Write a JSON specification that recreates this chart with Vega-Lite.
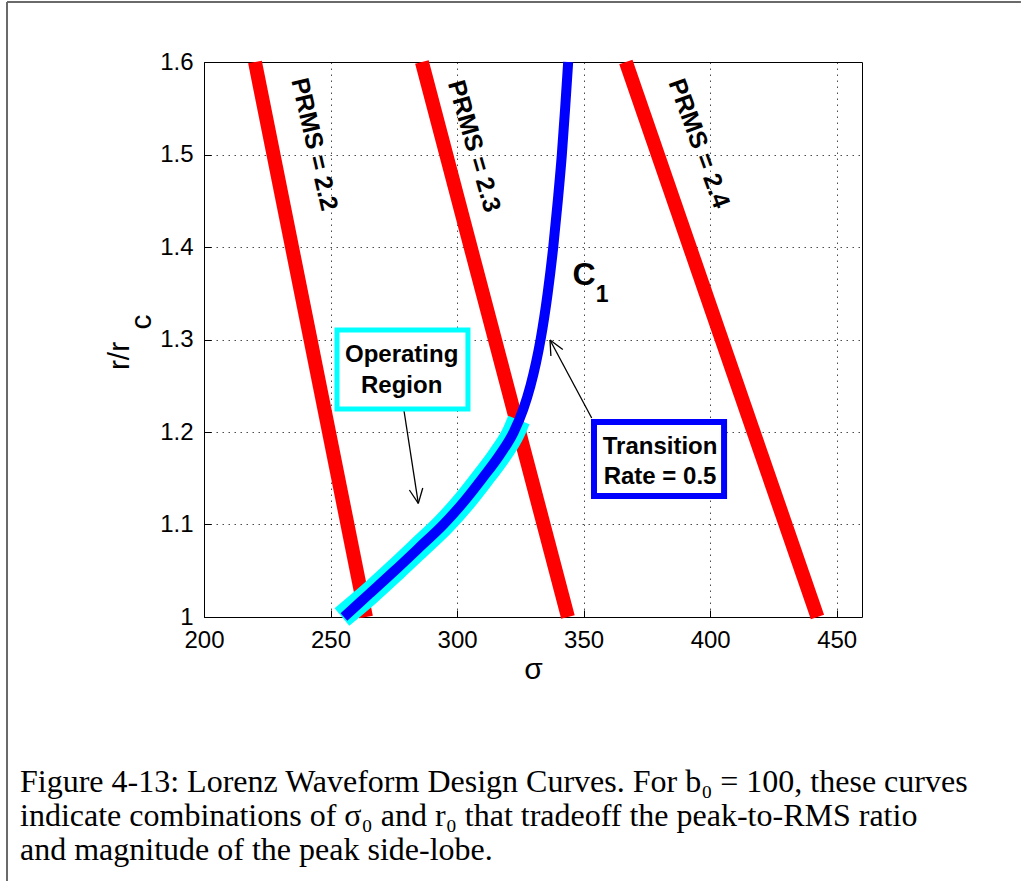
{
  "$schema": "https://vega.github.io/schema/vega-lite/v6.json",
  "width": 658,
  "height": 555,
  "autosize": {"type": "none"},
  "padding": {"left": 204, "top": 62, "right": 159, "bottom": 264},
  "background": "white",
  "config": {
    "view": {"stroke": "black", "strokeWidth": 1},
    "axis": {
      "labelFont": "Liberation Sans",
      "labelFontSize": 24,
      "labelColor": "black",
      "labelFlush": false,
      "domain": false,
      "grid": true,
      "gridColor": "black",
      "gridOpacity": 0.7,
      "gridDash": [1.5, 4.5],
      "gridWidth": 1,
      "ticks": true,
      "tickSize": -7,
      "tickColor": "black"
    },
    "text": {"font": "Liberation Sans", "fontWeight": "bold", "color": "black"}
  },
  "title": {
    "text": [
      "Figure 4-13: Lorenz Waveform Design Curves. For b₀ = 100, these curves",
      "indicate combinations of σ₀ and r₀ that tradeoff the peak-to-RMS ratio",
      "and magnitude of the peak side-lobe."
    ],
    "orient": "bottom",
    "anchor": "start",
    "frame": "group",
    "dx": -184,
    "offset": -115,
    "font": "Liberation Serif",
    "fontSize": 32,
    "fontWeight": "normal",
    "lineHeight": 34,
    "color": "black",
    "baseline": "top"
  },
  "encoding": {
    "x": {
      "field": "sigma",
      "type": "quantitative",
      "scale": {"domain": [200, 460], "nice": false, "zero": false},
      "axis": {
        "values": [200, 250, 300, 350, 400, 450],
        "labelPadding": 18,
        "title": "σ",
        "titleFont": "Liberation Sans",
        "titleFontSize": 30,
        "titleFontWeight": "normal",
        "titleColor": "black",
        "titlePadding": 2
      }
    },
    "y": {
      "field": "r",
      "type": "quantitative",
      "scale": {"domain": [1, 1.6], "nice": false, "zero": false},
      "axis": {
        "values": [1, 1.1, 1.2, 1.3, 1.4, 1.5, 1.6],
        "format": ".1~f",
        "labelPadding": 18,
        "title": null
      }
    }
  },
  "layer": [
    {
      "data": {"values": [
        {"part": "top", "sigma": 122.16, "r": 1.665, "sigma2": 522.8, "r2": 1.665},
        {"part": "left", "sigma": 122.16, "r": 1.665, "sigma2": 122.16, "r2": 0.7146}
      ]},
      "mark": {"type": "rule", "color": "#6a6a6a", "strokeWidth": 2, "clip": false},
      "encoding": {"x2": {"field": "sigma2"}, "y2": {"field": "r2"}}
    },
    {
      "data": {"values": [
        {"prms": "2.2", "sigma": 220.15, "r": 1.6},
        {"prms": "2.2", "sigma": 264.0, "r": 1.0},
        {"prms": "2.3", "sigma": 286.1, "r": 1.6},
        {"prms": "2.3", "sigma": 343.8, "r": 1.0},
        {"prms": "2.4", "sigma": 366.7, "r": 1.6},
        {"prms": "2.4", "sigma": 442.4, "r": 1.0}
      ]},
      "mark": {"type": "line", "color": "#ff0000", "strokeWidth": 14, "strokeCap": "butt"},
      "encoding": {"detail": {"field": "prms"}}
    },
    {
      "data": {"values": [
        {"sigma": 254.5, "r": 1.0},
        {"sigma": 265.3, "r": 1.025},
        {"sigma": 275.3, "r": 1.05},
        {"sigma": 285.0, "r": 1.075},
        {"sigma": 294.6, "r": 1.1},
        {"sigma": 302.8, "r": 1.125},
        {"sigma": 310.0, "r": 1.15},
        {"sigma": 316.8, "r": 1.175},
        {"sigma": 322.4, "r": 1.2},
        {"sigma": 324.4, "r": 1.213}
      ]},
      "mark": {"type": "line", "color": "#00ffff", "strokeWidth": 23, "strokeCap": "butt", "interpolate": "monotone"}
    },
    {
      "data": {"values": [
        {"sigma": 255.3, "r": 1.0},
        {"sigma": 265.3, "r": 1.025},
        {"sigma": 275.3, "r": 1.05},
        {"sigma": 285.0, "r": 1.075},
        {"sigma": 294.6, "r": 1.1},
        {"sigma": 302.8, "r": 1.125},
        {"sigma": 310.0, "r": 1.15},
        {"sigma": 316.8, "r": 1.175},
        {"sigma": 322.4, "r": 1.2},
        {"sigma": 326.2, "r": 1.225},
        {"sigma": 329.0, "r": 1.25},
        {"sigma": 331.2, "r": 1.275},
        {"sigma": 333.0, "r": 1.3},
        {"sigma": 335.8, "r": 1.35},
        {"sigma": 338.0, "r": 1.4},
        {"sigma": 339.8, "r": 1.45},
        {"sigma": 341.4, "r": 1.5},
        {"sigma": 342.7, "r": 1.55},
        {"sigma": 343.9, "r": 1.6}
      ]},
      "mark": {"type": "line", "color": "#0000ff", "strokeWidth": 10, "strokeCap": "butt", "interpolate": "monotone"}
    },
    {
      "data": {"values": [
        {"sigma": 279.03, "r": 1.223, "sigma2": 284.68, "r2": 1.1229},
        {"sigma": 284.68, "r": 1.1229, "sigma2": 286.44, "r2": 1.1395},
        {"sigma": 284.68, "r": 1.1229, "sigma2": 281.16, "r2": 1.1373},
        {"sigma": 353.19, "r": 1.2151, "sigma2": 336.72, "r2": 1.2995},
        {"sigma": 336.72, "r": 1.2995, "sigma2": 337.07, "r2": 1.2822},
        {"sigma": 336.72, "r": 1.2995, "sigma2": 341.78, "r2": 1.2891}
      ]},
      "mark": {"type": "rule", "color": "black", "strokeWidth": 1.3},
      "encoding": {"x2": {"field": "sigma2"}, "y2": {"field": "r2"}}
    },
    {
      "data": {"values": [
        {"sigma": 252.55, "r": 1.3103, "sigma2": 304.3, "r2": 1.2249}
      ]},
      "mark": {"type": "rect", "fill": "white", "stroke": "#00ffff", "strokeWidth": 5},
      "encoding": {"x2": {"field": "sigma2"}, "y2": {"field": "r2"}}
    },
    {
      "data": {"values": [
        {"sigma": 354.1, "r": 1.2108, "sigma2": 405.5, "r2": 1.1308}
      ]},
      "mark": {"type": "rect", "fill": "white", "stroke": "#0000ff", "strokeWidth": 6},
      "encoding": {"x2": {"field": "sigma2"}, "y2": {"field": "r2"}}
    },
    {
      "data": {"values": [
        {"label": "Operating", "sigma": 278.1, "r": 1.2832},
        {"label": "Region", "sigma": 278.1, "r": 1.2497},
        {"label": "Transition", "sigma": 380.2, "r": 1.1841},
        {"label": "Rate = 0.5", "sigma": 380.2, "r": 1.1517}
      ]},
      "mark": {"type": "text", "fontSize": 24, "align": "center", "baseline": "middle"},
      "encoding": {"text": {"field": "label"}}
    },
    {
      "data": {"values": [{"label": "PRMS = 2.2", "sigma": 243.6, "r": 1.511}]},
      "mark": {"type": "text", "fontSize": 25, "angle": 77, "align": "center", "baseline": "middle"},
      "encoding": {"text": {"field": "label"}}
    },
    {
      "data": {"values": [{"label": "PRMS = 2.3", "sigma": 306.7, "r": 1.509}]},
      "mark": {"type": "text", "fontSize": 25, "angle": 74, "align": "center", "baseline": "middle"},
      "encoding": {"text": {"field": "label"}}
    },
    {
      "data": {"values": [{"label": "PRMS = 2.4", "sigma": 395.6, "r": 1.512}]},
      "mark": {"type": "text", "fontSize": 25, "angle": 70, "align": "center", "baseline": "middle"},
      "encoding": {"text": {"field": "label"}}
    },
    {
      "data": {"values": [{"label": "C", "sigma": 350.15, "r": 1.370}]},
      "mark": {"type": "text", "fontSize": 32, "align": "center", "baseline": "middle"},
      "encoding": {"text": {"field": "label"}}
    },
    {
      "data": {"values": [{"label": "1", "sigma": 357.3, "r": 1.3481}]},
      "mark": {"type": "text", "fontSize": 23, "align": "center", "baseline": "middle"},
      "encoding": {"text": {"field": "label"}}
    },
    {
      "data": {"values": [{"label": "r/r", "sigma": 166.8, "r": 1.2822}]},
      "mark": {"type": "text", "fontSize": 30, "fontWeight": "normal", "angle": 270, "align": "center", "baseline": "middle", "clip": false},
      "encoding": {"text": {"field": "label"}}
    },
    {
      "data": {"values": [{"label": "c", "sigma": 175.5, "r": 1.319}]},
      "mark": {"type": "text", "fontSize": 30, "fontWeight": "normal", "angle": 270, "align": "center", "baseline": "middle", "clip": false},
      "encoding": {"text": {"field": "label"}}
    }
  ]
}
